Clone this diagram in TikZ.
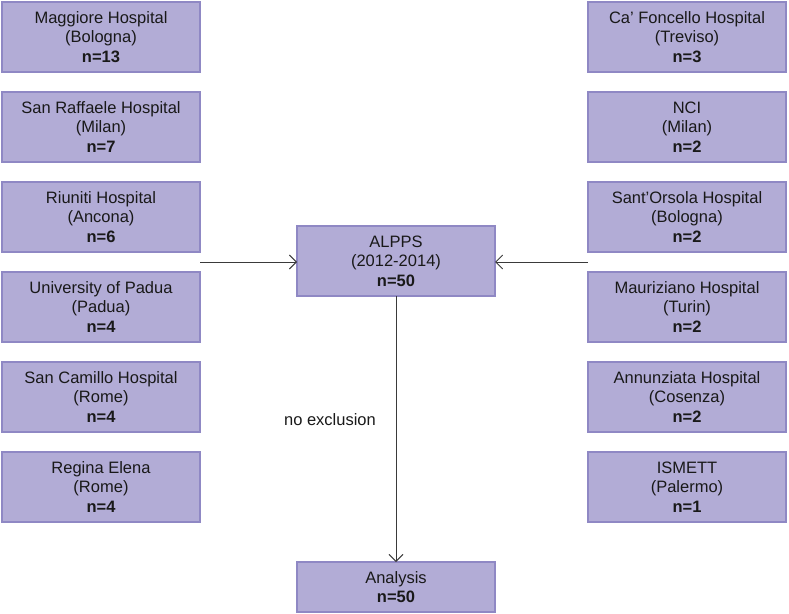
\documentclass[tikz,border=0pt]{standalone}
\usepackage{fontspec}
\setmainfont{Liberation Sans}
\usetikzlibrary{arrows.meta,positioning,calc}
\definecolor{lilac}{HTML}{B2ACD6}
\definecolor{lilacedge}{HTML}{8F88C4}
\definecolor{ink}{HTML}{3A3A3A}
\newcommand{\sitebox}[3]{#1\\(#2)\\\textbf{n=#3}}

\begin{document}
\begin{tikzpicture}[
  x=1pt,y=1pt,
  node distance=20pt and 20pt,
  every node/.style={font=\fontsize{16.5}{19.5}\selectfont,align=center,text=black!90},
  box/.style={draw=lilacedge,line width=1.2pt,fill=lilac,
              minimum width=198pt,minimum height=70pt,inner sep=2pt,outer sep=0pt},
  arr/.style={-{Straight Barb[length=7pt,width=14pt]},line width=0.9pt,ink}
]
\useasboundingbox (0,0) rectangle (789,-613);
% left column
\node[box,anchor=north west] (maggiore) at (2,-2) {\sitebox{Maggiore Hospital}{Bologna}{13}};
\node[box,below=of maggiore] (raffaele) {\sitebox{San Raffaele Hospital}{Milan}{7}};
\node[box,below=of raffaele] (riuniti) {\sitebox{Riuniti Hospital}{Ancona}{6}};
\node[box,below=of riuniti] (padua) {\sitebox{University of Padua}{Padua}{4}};
\node[box,below=of padua] (camillo) {\sitebox{San Camillo Hospital}{Rome}{4}};
\node[box,below=of camillo] (regina) {\sitebox{Regina Elena}{Rome}{4}};
% right column
\node[box,anchor=north east] (foncello) at (786,-2) {\sitebox{Ca' Foncello Hospital}{Treviso}{3}};
\node[box,below=of foncello] (nci) {\sitebox{NCI}{Milan}{2}};
\node[box,below=of nci] (orsola) {\sitebox{Sant'Orsola Hospital}{Bologna}{2}};
\node[box,below=of orsola] (mauriziano) {\sitebox{Mauriziano Hospital}{Turin}{2}};
\node[box,below=of mauriziano] (annunziata) {\sitebox{Annunziata Hospital}{Cosenza}{2}};
\node[box,below=of annunziata] (ismett) {\sitebox{ISMETT}{Palermo}{1}};
% middle
\node[box] (alpps) at (396,-261) {ALPPS\\(2012-2014)\\\textbf{n=50}};
\node[box,minimum height=50pt] (analysis) at (396,-587) {Analysis\\\textbf{n=50}};
\node (noexcl) at (330,-420) {no exclusion};

\coordinate (lgap) at ($(riuniti.south east)!0.5!(padua.north east)$);
\coordinate (rgap) at ($(orsola.south west)!0.5!(mauriziano.north west)$);
\draw[arr] (lgap) -- (lgap -| alpps.west);
\draw[arr] (rgap) -- (rgap -| alpps.east);
\draw[arr] (alpps) -- (analysis);
\end{tikzpicture}
\end{document}
